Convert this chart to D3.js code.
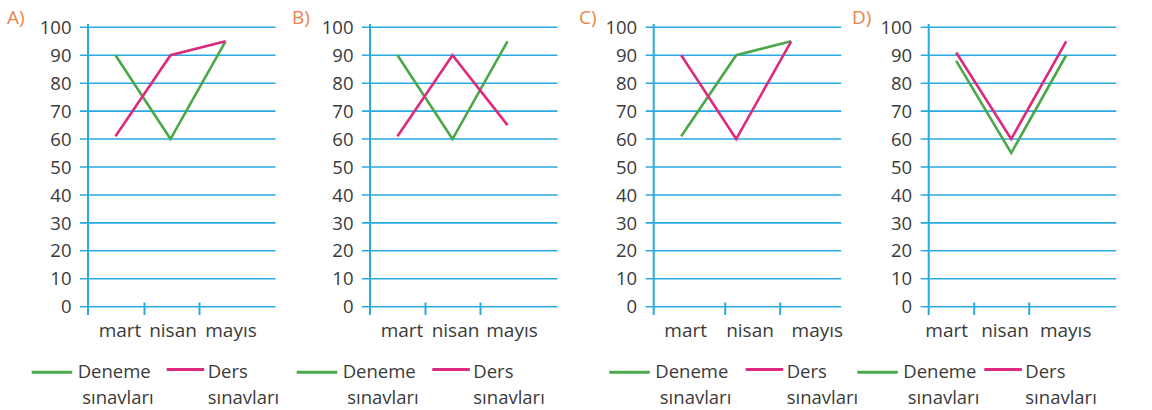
<!DOCTYPE html>
<html>
<head>
<meta charset="utf-8">
<script src="https://cdn.jsdelivr.net/npm/d3@7"></script>
<style>
body{margin:0;background:#fff;}
svg{display:block;font-family:"Open Sans",sans-serif;}
</style>
</head>
<body>
<svg width="1152" height="410"></svg>
<script>
// veriler
var categories = ["mart", "nisan", "mayıs"];
var panelNames = ["A)", "B)", "C)", "D)"];
var yTicks = [0, 10, 20, 30, 40, 50, 60, 70, 80, 90, 100];
var deneme = [[90, 60, 95], [90, 60, 95], [61, 90, 95], [88, 55, 90]];
var ders = [[61, 90, 95], [61, 90, 65], [90, 60, 95], [91, 60, 95]];
var legendNames = ["Deneme", "Ders"];

// yerleşim
var axisX = [88, 370, 653.7, 928.7];
var tickShift = [1.5, 0.5, 16.5, -9.5];
var labelShift = [[4.5, 2.5, 5.5], [4.5, 3, 4.5], [4.5, 13.8, 26.2], [-9.5, -6.2, -0.5]];
var nameX = [7, 292, 579, 852];
var legendX = [31.7, 296.7, 609.3, 857.3];
var pinkOff = [135, 135.6, 136.4, 127];

var blue = "#29a9e0", green = "#4aa84a", pink = "#de2a7c", txt = "#3a3a3a";

var svg = d3.select("svg");
var y = d3.scaleLinear().domain([0, 100]).range([306.7, 27.3]);
var x = d3.scaleBand().domain(categories).range([0, 165]);

var line = d3.line()
	.x(function(d, i){ return x(categories[i]) + x.bandwidth() / 2; })
	.y(function(d){ return y(d); });

for(var p = 0; p < 4; p++){
	var g = svg.append("g").attr("transform", "translate(" + axisX[p] + ",0)");

	// yatay çizgiler
	g.selectAll("line.grid")
	  .data(yTicks)
	  .enter()
	  .append("line")
	  .attr("class", "grid")
	  .attr("x1", -8).attr("x2", 187.5)
	  .attr("y1", function(d){ return y(d); })
	  .attr("y2", function(d){ return y(d); })
	  .attr("stroke", blue)
	  .attr("stroke-width", 1.6);

	g.selectAll("text.yl")
	  .data(yTicks)
	  .enter()
	  .append("text")
	  .attr("class", "yl")
	  .attr("x", -16.5)
	  .attr("y", function(d){ return y(d); })
	  .attr("dy", "0.36em")
	  .attr("text-anchor", "end")
	  .attr("font-size", 18.5)
	  .attr("fill", txt)
	  .text(function(d){ return d; });

	// dikey eksen
	g.append("line")
	  .attr("x1", 0).attr("x2", 0)
	  .attr("y1", 24).attr("y2", 315)
	  .attr("stroke", blue)
	  .attr("stroke-width", 2);

	// ay ayırıcı çentikler
	var sh = tickShift[p];
	g.selectAll("line.xt")
	  .data(categories.slice(1))
	  .enter()
	  .append("line")
	  .attr("class", "xt")
	  .attr("x1", function(d){ return x(d) + sh; })
	  .attr("x2", function(d){ return x(d) + sh; })
	  .attr("y1", 302.5).attr("y2", 315)
	  .attr("stroke", blue)
	  .attr("stroke-width", 2);

	var ls = labelShift[p];
	g.selectAll("text.xl")
	  .data(categories)
	  .enter()
	  .append("text")
	  .attr("class", "xl")
	  .attr("x", function(d, i){ return x(d) + x.bandwidth() / 2 + ls[i]; })
	  .attr("y", 336.5)
	  .attr("text-anchor", "middle")
	  .attr("font-size", 19)
	  .attr("fill", txt)
	  .text(function(d){ return d; });

	g.append("path")
	  .datum(deneme[p])
	  .attr("d", line)
	  .attr("fill", "none")
	  .attr("stroke", green)
	  .attr("stroke-width", 2.6);

	g.append("path")
	  .datum(ders[p])
	  .attr("d", line)
	  .attr("fill", "none")
	  .attr("stroke", pink)
	  .attr("stroke-width", 2.6);

	svg.append("text")
	  .attr("x", nameX[p]).attr("y", 24)
	  .attr("font-size", 19)
	  .attr("fill", "#e8844c")
	  .text(panelNames[p]);

	// lejant
	var lx = legendX[p];
	svg.append("line")
	  .attr("x1", lx).attr("x2", lx + 40.5)
	  .attr("y1", 372.3).attr("y2", 372.3)
	  .attr("stroke", green).attr("stroke-width", 3);
	svg.append("text")
	  .attr("x", lx + 46).attr("y", 378.3)
	  .attr("font-size", 18.5).attr("fill", txt)
	  .text(legendNames[0]);
	svg.append("text")
	  .attr("x", lx + 50.5).attr("y", 404)
	  .attr("font-size", 18.5).attr("fill", txt)
	  .text("sınavları");

	var px = lx + pinkOff[p];
	svg.append("line")
	  .attr("x1", px).attr("x2", px + 37.5)
	  .attr("y1", 369.5).attr("y2", 369.5)
	  .attr("stroke", pink).attr("stroke-width", 3);
	svg.append("text")
	  .attr("x", px + 41).attr("y", 378.3)
	  .attr("font-size", 18.5).attr("fill", txt)
	  .text(legendNames[1]);
	svg.append("text")
	  .attr("x", px + 41).attr("y", 404)
	  .attr("font-size", 18.5).attr("fill", txt)
	  .text("sınavları");
}
</script>
</body>
</html>
